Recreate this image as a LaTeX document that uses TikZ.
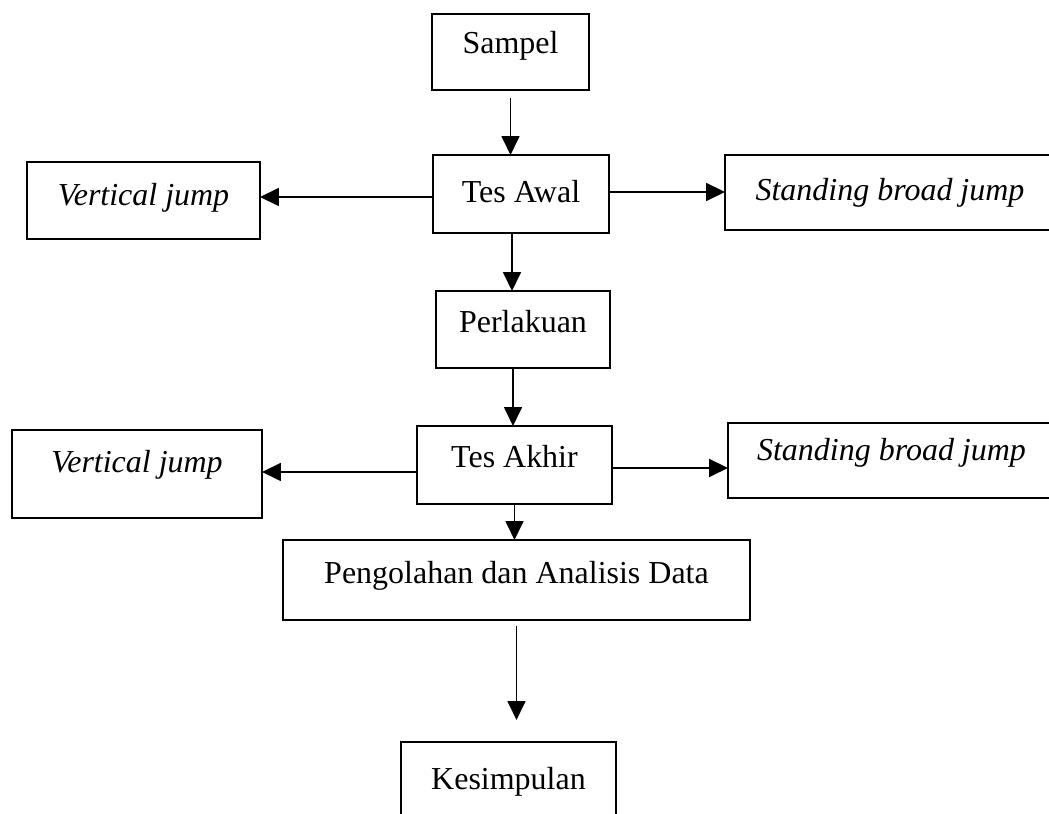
\documentclass[tikz,border=0pt]{standalone}
\usepackage{fontspec}
\setmainfont{Liberation Serif}
\usetikzlibrary{arrows.meta}

\begin{document}
\begin{tikzpicture}[x=0.02cm,y=-0.02cm,%
    blok/.style={draw,line width=0.9pt,inner sep=0pt,outer sep=0pt,anchor=north,
      font=\fontsize{18.2}{22}\selectfont},
    panah/.style={line width=1pt,-{Triangle[length=0.38cm,width=0.36cm]}}
  ]
		\clip (0,0) rectangle (1049,814);

		\node at (510.5,14) [blok,minimum width=3.14cm,text height=0.80cm,text depth=0.72cm] (sampel) {Sampel};
		\node at (521,155) [blok,minimum width=3.52cm,text height=0.96cm,text depth=0.60cm] (tesawal) {Tes Awal};
		\node at (143.5,162) [blok,minimum width=4.66cm,text height=0.88cm,text depth=0.66cm] (vjawal) {\textit{Vertical jump}};
		\node at (890,155) [blok,minimum width=6.6cm,text height=0.92cm,text depth=0.58cm] (sbjawal) {\textit{Standing broad jump}};
		\node at (523,291) [blok,minimum width=3.48cm,text height=0.84cm,text depth=0.70cm] (perlakuan) {Perlakuan};
		\node at (514.5,426) [blok,minimum width=3.9cm,text height=0.84cm,text depth=0.72cm] (tesakhir) {Tes Akhir};
		\node at (137,430) [blok,minimum width=5.0cm,text height=0.86cm,text depth=0.90cm] (vjakhir) {\textit{Vertical jump}};
		\node at (891.5,423) [blok,minimum width=6.54cm,text height=0.76cm,text depth=0.74cm] (sbjakhir) {\textit{Standing broad jump}};
		\node at (516.5,540) [blok,minimum width=9.34cm,text height=0.88cm,text depth=0.72cm] (olah) {Pengolahan dan Analisis Data};
		\node at (508.5,742) [blok,minimum width=4.3cm,text height=0.96cm,text depth=0.8cm] (simpulan) {Kesimpulan};

		\draw[panah,shorten <=0.16cm] (sampel.south) -- (sampel.south |- tesawal.north);
		\draw[panah] ([yshift=-0.06cm]tesawal.west) -- ([yshift=-0.06cm]tesawal.west -| vjawal.east);
		\draw[panah] ([yshift=0.04cm]tesawal.east) -- ([yshift=0.04cm]tesawal.east -| sbjawal.west);
		\draw[panah] ([xshift=-0.18cm]tesawal.south) -- ([xshift=-0.18cm]tesawal.south |- perlakuan.north);
		\draw[panah] ([xshift=-0.2cm]perlakuan.south) -- ([xshift=-0.2cm]perlakuan.south |- tesakhir.north);
		\draw[panah] ([yshift=-0.14cm]tesakhir.west) -- ([yshift=-0.14cm]tesakhir.west -| vjakhir.east);
		\draw[panah] ([yshift=-0.06cm]tesakhir.east) -- ([yshift=-0.06cm]tesakhir.east -| sbjakhir.west);
		\draw[panah] (tesakhir.south) -- (tesakhir.south |- olah.north);
		\draw[panah,shorten <=0.12cm,shorten >=0.44cm] (olah.south) -- (olah.south |- simpulan.north);
	\end{tikzpicture}
\end{document}
